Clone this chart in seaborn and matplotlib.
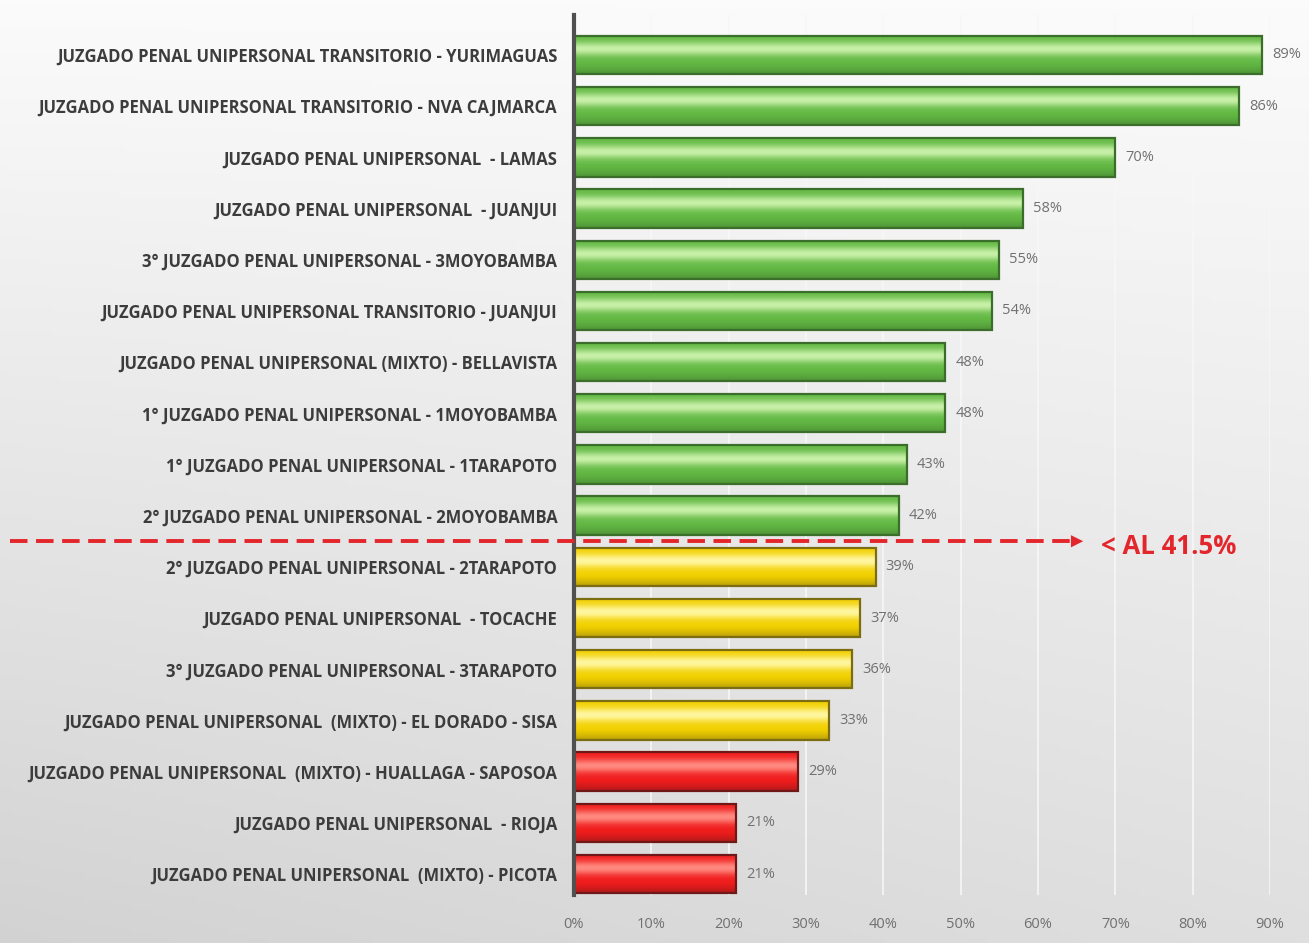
import numpy as np
import pandas as pd
import matplotlib
matplotlib.use("Agg")
import matplotlib.pyplot as plt
import matplotlib.transforms as mtransforms
from matplotlib.lines import Line2D
from matplotlib.colors import to_rgb
import seaborn as sns

categories = [
    "JUZGADO PENAL UNIPERSONAL TRANSITORIO - YURIMAGUAS",
    "JUZGADO PENAL UNIPERSONAL TRANSITORIO - NVA CAJMARCA",
    "JUZGADO PENAL UNIPERSONAL  - LAMAS",
    "JUZGADO PENAL UNIPERSONAL  - JUANJUI",
    "3° JUZGADO PENAL UNIPERSONAL - 3MOYOBAMBA",
    "JUZGADO PENAL UNIPERSONAL TRANSITORIO - JUANJUI",
    "JUZGADO PENAL UNIPERSONAL (MIXTO) - BELLAVISTA",
    "1° JUZGADO PENAL UNIPERSONAL - 1MOYOBAMBA",
    "1° JUZGADO PENAL UNIPERSONAL - 1TARAPOTO",
    "2° JUZGADO PENAL UNIPERSONAL - 2MOYOBAMBA",
    "2° JUZGADO PENAL UNIPERSONAL - 2TARAPOTO",
    "JUZGADO PENAL UNIPERSONAL  - TOCACHE",
    "3° JUZGADO PENAL UNIPERSONAL - 3TARAPOTO",
    "JUZGADO PENAL UNIPERSONAL  (MIXTO) - EL DORADO - SISA",
    "JUZGADO PENAL UNIPERSONAL  (MIXTO) - HUALLAGA - SAPOSOA",
    "JUZGADO PENAL UNIPERSONAL  - RIOJA",
    "JUZGADO PENAL UNIPERSONAL  (MIXTO) - PICOTA",
]
values = [89, 86, 70, 58, 55, 54, 48, 48, 43, 42, 39, 37, 36, 33, 29, 21, 21]
levels = ["alto"] * 10 + ["medio"] * 4 + ["bajo"] * 3
threshold_label = "< AL 41.5%"
threshold = 41.5
x_ticks = [0, 10, 20, 30, 40, 50, 60, 70, 80, 90]

level_colors = {"alto": "#62b843", "medio": "#f2d000", "bajo": "#f01c1c"}
level_light = {"alto": "#c8f0a8", "medio": "#fff7a0", "bajo": "#ff8a80"}
level_edge = {"alto": "#3b6e2a", "medio": "#7d6d12", "bajo": "#701818"}

df = pd.DataFrame({"cat": categories, "val": values, "lvl": levels})

sns.set_theme(style="white")
plt.rcParams["font.family"] = ["Open Sans", "DejaVu Sans"]

W, H = 1309, 943
fig = plt.figure(figsize=(W / 100, H / 100), dpi=100)

# background gradient
bg = fig.add_axes([0, 0, 1, 1], zorder=-10)
yy, xx = np.mgrid[0:1:200j, 0:1:200j]
base = 0.985 - 0.11 * yy - 0.05 * (1 - xx) * yy
bg.imshow(np.dstack([base, base, base]), extent=[0, 1, 0, 1], aspect="auto", origin="upper")
bg.set_axis_off()

ax = fig.add_axes([574 / W, 48 / H, 696 / W, 880 / H])
ax.set_facecolor("none")

palette = [level_colors[l] for l in levels]
sns.barplot(data=df, y="cat", x="val", hue="cat", palette=palette, legend=False,
            orient="h", width=0.75, ax=ax, saturation=1, zorder=3)

# gradient shading inside bars + edges
for i, patch in enumerate(ax.patches):
    lvl = levels[i]
    c0 = np.array(to_rgb(level_colors[lvl]))
    c1 = np.array(to_rgb(level_light[lvl]))
    cd = np.array(to_rgb(level_edge[lvl]))
    t = np.linspace(0, 1, 60)
    prof = np.exp(-((t - 0.35) / 0.18) ** 2)
    dark = np.clip((t - 0.7) / 0.3, 0, 1) ** 1.5
    cols = c0[None, :] * (1 - prof[:, None]) + c1[None, :] * prof[:, None]
    cols = cols * (1 - 0.5 * dark[:, None]) + cd[None, :] * 0.5 * dark[:, None]
    img = cols[:, None, :]
    x0, y0 = patch.get_x(), patch.get_y()
    w, h = patch.get_width(), patch.get_height()
    im = ax.imshow(img, extent=[x0, x0 + w, y0 + h, y0], aspect="auto",
                   origin="upper", zorder=3.5, interpolation="bilinear")
    im.set_clip_path(patch)
    patch.set_edgecolor(level_edge[lvl])
    patch.set_linewidth(1.6)
    patch.set_zorder(4)
    patch.set_facecolor("none")
    ax.text(w + 1.3, y0 + h / 2, f"{values[i]}%", va="center", ha="left",
            fontsize=10.5, color="#707070", clip_on=False, zorder=5)

ax.set_xlim(0, 90)
ax.set_ylim(16.41, -0.78)
ax.set_xticks(x_ticks)
ax.set_xticklabels([f"{t}%" for t in x_ticks], color="#707070", fontsize=10.5)
ax.tick_params(axis="x", length=0, pad=16)
ax.tick_params(axis="y", length=0, pad=12)
for lbl in ax.get_yticklabels():
    lbl.set_fontsize(12)
    lbl.set_fontweight("bold")
    lbl.set_color("#3c3c3c")
    lbl.set_fontstretch("condensed")
ax.set_xlabel("")
ax.set_ylabel("")
ax.grid(axis="x", color="#f7f7f7", lw=1.2, zorder=0)
ax.grid(axis="y", visible=False)
for s in ["top", "right", "bottom"]:
    ax.spines[s].set_visible(False)
ax.spines["left"].set_color("#505050")
ax.spines["left"].set_linewidth(3)
ax.spines["left"].set_zorder(6)

# threshold dashed arrow line
red = "#e3262b"
yline = 9.5
trans = mtransforms.blended_transform_factory(fig.transFigure, ax.transData)
x_end_fig = fig.transFigure.inverted().transform(ax.transData.transform((64.8, yline)))[0]
line = Line2D([10 / W, x_end_fig], [yline, yline], transform=trans, color=red,
              lw=2.8, linestyle=(0, (4.5, 2.2)), clip_on=False, zorder=8)
ax.add_line(line)
ax.annotate("", xy=(66.2, yline), xytext=(64.6, yline),
            arrowprops=dict(arrowstyle="-|>", color=red, lw=0, mutation_scale=22),
            annotation_clip=False, zorder=8)
ax.text(68.2, yline + 0.1, threshold_label, color=red, fontsize=18.5, fontweight="bold",
        va="center", ha="left", zorder=8)

fig.savefig("out.png", dpi=100)
